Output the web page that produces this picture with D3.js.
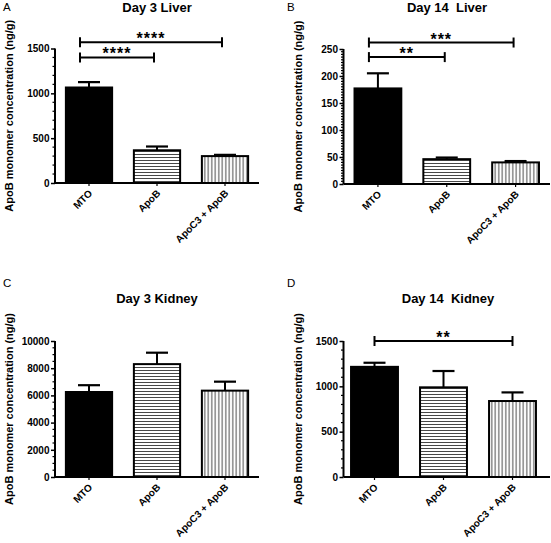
<!DOCTYPE html>
<html><head><meta charset="utf-8">
<script src="https://cdn.jsdelivr.net/npm/d3@7"></script>
<style>body{margin:0;background:#fff} text{font-family:Arial,"Liberation Sans",sans-serif}</style>
</head><body><svg id="c" width="551" height="543"></svg>
<script>
// ---- data ----
const groups = ["MTO", "ApoB", "ApoC3 + ApoB"];
const panelLetters = ["A", "B", "C", "D"];
const titles = ["Day 3 Liver", "Day 14  Liver", "Day 3 Kidney", "Day 14  Kidney"];
const yLabel = "ApoB monomer concentration (ng/g)";

const meansDay3Liver = [1065, 365, 300];
const semDay3Liver = [60, 42, 14];
const meansDay14Liver = [177, 46, 40];
const semDay14Liver = [28, 3, 2.5];
const meansDay3Kidney = [6250, 8300, 6350];
const semDay3Kidney = [500, 840, 660];
const meansDay14Kidney = [1215, 989, 838];
const semDay14Kidney = [45, 180, 95];

const ticksDay3Liver = [0, 500, 1000, 1500];
const ticksDay14Liver = [0, 50, 100, 150, 200, 250];
const ticksDay3Kidney = [0, 2000, 4000, 6000, 8000, 10000];
const ticksDay14Kidney = [0, 500, 1000, 1500];
const minorStep = [100, 5, 500, 100];

const sigDay3Liver = [{from: 0, to: 1, level: 1400, label: "****"}, {from: 0, to: 2, level: 1570, label: "****"}];
const sigDay14Liver = [{from: 0, to: 1, level: 235, label: "**"}, {from: 0, to: 2, level: 262, label: "***"}];
const sigDay3Kidney = [];
const sigDay14Kidney = [{from: 0, to: 2, level: 1500, label: "**"}];

const means = [meansDay3Liver, meansDay14Liver, meansDay3Kidney, meansDay14Kidney];
const sems = [semDay3Liver, semDay14Liver, semDay3Kidney, semDay14Kidney];
const ticks = [ticksDay3Liver, ticksDay14Liver, ticksDay3Kidney, ticksDay14Kidney];
const sigs = [sigDay3Liver, sigDay14Liver, sigDay3Kidney, sigDay14Kidney];

// ---- layout ----
const layout = [
  {x0: 55, x1: 259, bx0: 55, bx1: 259, top: 48.5, bottom: 183, lx: 3, ly: 11, ty: 11.5, tx: 157, brDx: [-9, -3]},
  {x0: 343.5, x1: 550, bx0: 343.5, bx1: 550, top: 49, bottom: 184, lx: 287, ly: 11, ty: 11.5, tx: 447, brDx: [-9, -2]},
  {x0: 55, x1: 259, bx0: 55, bx1: 259, top: 341, bottom: 477, lx: 3, ly: 287, ty: 303, tx: 157, brDx: [0, 0]},
  {x0: 343.5, x1: 550, bx0: 340, bx1: 547, top: 341, bottom: 477, lx: 287, ly: 287, ty: 303, tx: 448, brDx: [0, 0]}
];

const svg = d3.select("#c");
const defs = svg.append("defs");
const ph = defs.append("pattern").attr("id", "hz").attr("patternUnits", "userSpaceOnUse")
  .attr("width", 4).attr("height", 3);
ph.append("rect").attr("width", 4).attr("height", 3).attr("fill", "#fff");
ph.append("line").attr("x1", 0).attr("x2", 4).attr("y1", 1.5).attr("y2", 1.5).attr("stroke", "#333").attr("stroke-width", 0.9);
const pv = defs.append("pattern").attr("id", "vt").attr("patternUnits", "userSpaceOnUse")
  .attr("width", 3.5).attr("height", 4);
pv.append("rect").attr("width", 3.5).attr("height", 4).attr("fill", "#fff");
pv.append("line").attr("y1", 0).attr("y2", 4).attr("x1", 1.75).attr("x2", 1.75).attr("stroke", "#333").attr("stroke-width", 0.9);
const fills = ["#000", "url(#hz)", "url(#vt)"];

layout.forEach((L, p) => {
  const g = svg.append("g");
  const tk = ticks[p];
  const y = d3.scaleLinear().domain([0, tk[tk.length - 1]]).range([L.bottom, L.top]);
  const x = d3.scaleBand().domain(groups).range([L.bx0, L.bx1]).paddingInner(0.32).paddingOuter(0.16);

  // panel letter
  g.append("text").attr("x", L.lx).attr("y", L.ly).attr("font-size", 11.5).text(panelLetters[p]);
  // title
  g.append("text").attr("x", L.tx).attr("y", L.ty).attr("text-anchor", "middle")
    .attr("font-size", 13).attr("font-weight", "bold").style("white-space", "pre").text(titles[p]);
  // y label
  g.append("text").attr("transform", `translate(${L.x0 - 42},${(L.top + L.bottom) / 2}) rotate(-90)`)
    .attr("text-anchor", "middle").attr("font-size", 11).attr("font-weight", "bold").text(yLabel);

  // bars
  const data = groups.map((k, i) => ({k, i, m: means[p][i], s: sems[p][i]}));
  g.selectAll("rect.bar").data(data).join("rect")
    .attr("x", d => x(d.k)).attr("width", x.bandwidth())
    .attr("y", d => y(d.m)).attr("height", d => y(0) - y(d.m))
    .attr("fill", d => fills[d.i]).attr("stroke", "#000").attr("stroke-width", 2);
  // error bars
  const cap = 22;
  data.forEach(d => {
    const cx = x(d.k) + x.bandwidth() / 2;
    g.append("line").attr("x1", cx).attr("x2", cx).attr("y1", y(d.m)).attr("y2", y(d.m + d.s))
      .attr("stroke", "#000").attr("stroke-width", 2);
    g.append("line").attr("x1", cx - cap / 2).attr("x2", cx + cap / 2).attr("y1", y(d.m + d.s)).attr("y2", y(d.m + d.s))
      .attr("stroke", "#000").attr("stroke-width", 2.2);
  });

  // y axis
  const ya = g.append("g").attr("transform", `translate(${L.x0},0)`)
    .call(d3.axisLeft(y).tickValues(tk).tickSize(4).tickPadding(1.5).tickFormat(d3.format("d")));
  ya.select(".domain").attr("stroke-width", 2).attr("d", `M0,${L.bottom}V${L.top}`);
  ya.selectAll(".tick line").attr("stroke-width", 1.5);
  ya.selectAll(".tick text").attr("font-size", 10).attr("font-weight", "bold")
    .attr("font-family", "Arial, 'Liberation Sans', sans-serif");
  const minors = d3.range(0, tk[tk.length - 1] + 1e-9, minorStep[p]).filter(v => !tk.includes(v));
  g.selectAll("line.minor").data(minors).join("line")
    .attr("x1", L.x0 - 2.5).attr("x2", L.x0).attr("y1", d => y(d)).attr("y2", d => y(d))
    .attr("stroke", "#000").attr("stroke-width", 1.2);

  // x axis
  const xa = g.append("g").attr("transform", `translate(0,${L.bottom})`)
    .call(d3.axisBottom(x).tickSize(3).tickFormat(""));
  xa.select(".domain").attr("stroke-width", 2).attr("d", `M${L.x0},0H${L.x1}`);
  xa.selectAll(".tick line").attr("stroke-width", 1.2);
  groups.forEach(k => {
    const cx = x(k) + x.bandwidth() / 2;
    g.append("text").attr("transform", `translate(${cx + 4},${L.bottom + 11}) rotate(-45)`)
      .attr("text-anchor", "end").attr("font-size", 10).attr("font-weight", "bold").text(k);
  });

  // significance brackets
  sigs[p].forEach(s => {
    const xa1 = x(groups[s.from]) + x.bandwidth() / 2 + L.brDx[0];
    const xa2 = x(groups[s.to]) + x.bandwidth() / 2 + L.brDx[1];
    const yy = y(s.level);
    const bg = g.append("g").attr("stroke", "#000").attr("stroke-width", 2);
    bg.append("line").attr("x1", xa1).attr("x2", xa2).attr("y1", yy).attr("y2", yy);
    bg.append("line").attr("x1", xa1).attr("x2", xa1).attr("y1", yy - 5).attr("y2", yy + 5);
    bg.append("line").attr("x1", xa2).attr("x2", xa2).attr("y1", yy - 5).attr("y2", yy + 5);
    g.append("text").attr("x", (xa1 + xa2) / 2).attr("y", yy + 2).attr("text-anchor", "middle")
      .attr("font-size", 16).attr("font-weight", "bold").attr("letter-spacing", 1).text(s.label);
  });
});
</script></body></html>
